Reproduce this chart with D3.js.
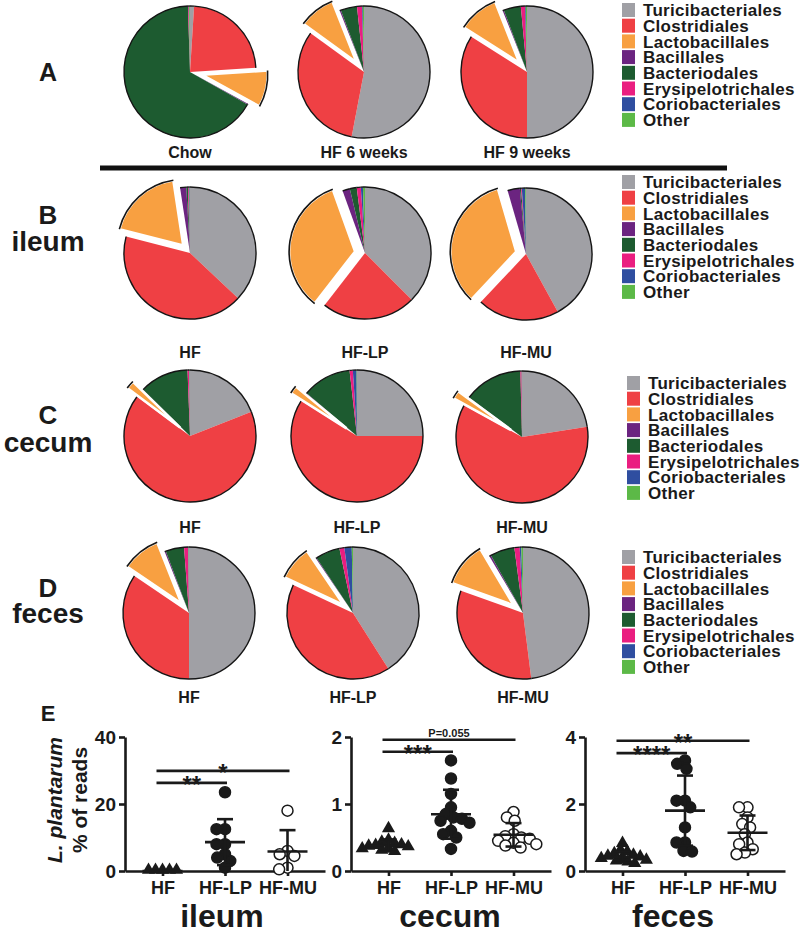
<!DOCTYPE html>
<html><head><meta charset="utf-8">
<script src="https://cdn.jsdelivr.net/npm/d3@7"></script>
<style>
body{margin:0;background:#fff}
text{font-family:"Liberation Sans",Arial,Helvetica,sans-serif;font-weight:bold;fill:#1a1a1a}
</style>
</head><body>
<svg id="c" width="800" height="933" xmlns="http://www.w3.org/2000/svg"></svg>
<script>
// ---------------- DATA ----------------
const orders = ["Turicibacteriales","Clostridiales","Lactobacillales","Bacillales","Bacteriodales","Erysipelotrichales","Coriobacteriales","Other"];
const orderColors = ["#a0a0a5","#ef4044","#f8a041","#6b2480","#1d5b30","#ea1e80","#2f4ea0","#5cb947"];

// Panel A (% of reads per order)
const pieA_labels = ["Chow","HF 6 weeks","HF 9 weeks"];
const pieA_chow = [1, 23, 9, 0.2, 66.3, 0.2, 0.1, 0.2];
const pieA_hf6  = [53, 32, 9, 0.3, 4, 1.2, 0.2, 0.3];
const pieA_hf9  = [50, 34, 10, 0.3, 4.2, 1, 0.2, 0.3];
// Panel B ileum
const groups = ["HF","HF-LP","HF-MU"];
const pieB_hf   = [37, 42, 18.6, 1.5, 0.4, 0.2, 0.2, 0.1];
const pieB_hflp = [37.5, 23, 34, 1.8, 1.7, 1, 0.5, 0.5];
const pieB_hfmu = [42, 20, 33.5, 3, 0.3, 0.2, 0.8, 0.2];
// Panel C cecum
const pieC_hf   = [19, 66.2, 2.1, 0.1, 12, 0.4, 0.1, 0.1];
const pieC_hflp = [25, 59, 2.0, 0.2, 12, 0.8, 0.9, 0.1];
const pieC_hfmu = [22.5, 60.5, 2.1, 0.1, 14.4, 0.3, 0.05, 0.05];
// Panel D feces
const pieD_hf   = [50, 34.5, 9.5, 0.3, 4.5, 1, 0.1, 0.1];
const pieD_hflp = [41, 41, 8.5, 0.2, 6, 1.2, 1.8, 0.3];
const pieD_hfmu = [48, 32.5, 11, 0.4, 6, 1.3, 0.4, 0.4];

// Panel E: L. plantarum % of reads
const ileum_HF   = [0, 0, 0, 0, 0];
const ileum_HFLP = [23.5, 12.5, 12.5, 8, 8, 5, 4, 3, 1];
const ileum_HFMU = [18, 6, 5, 4.5, 1, 0.5];
const cecum_HF   = [0.62, 0.45, 0.42, 0.40, 0.38, 0.37, 0.36, 0.35, 0.33, 0.32, 0.30, 0.28];
const cecum_HFLP = [1.65, 1.38, 1.15, 0.95, 0.85, 0.8, 0.78, 0.75, 0.72, 0.6, 0.55, 0.5, 0.33];
const cecum_HFMU = [0.88, 0.8, 0.75, 0.55, 0.52, 0.5, 0.48, 0.45, 0.42, 0.40, 0.38, 0.35];
const feces_HF   = [0.8, 0.6, 0.55, 0.5, 0.45, 0.42, 0.4, 0.38, 0.35, 0.3, 0.28, 0.25, 0.2];
const feces_HFLP = [3.3, 3.2, 3.05, 2.1, 2.1, 1.9, 1.3, 0.85, 0.85, 0.6, 0.58];
const feces_HFMU = [1.9, 1.9, 1.6, 1.4, 1.3, 1.1, 0.85, 0.8, 0.65, 0.55, 0.5];
const ileum_ticks = [0, 20, 40];
const cecum_ticks = [0, 1, 2];
const feces_ticks = [0, 2, 4];
// significance: [from group, to group, y value, label]
const ileum_sig = [["HF","HF-LP",26.3,"**"],["HF","HF-MU",29.9,"*"]];
const cecum_sig = [["HF","HF-LP",1.78,"***"],["HF","HF-MU",1.96,"P=0.055"]];
const feces_sig = [["HF","HF-LP",3.52,"****"],["HF","HF-MU",3.89,"**"]];

// ---------------- DRAW ----------------
const svg = d3.select("#c");
const R = 66;

function drawPie(cx, cy, vals, explodeIdx, offset, label, labelY) {
  const arcs = d3.pie().sort(null).value(d => d).startAngle(0).endAngle(2*Math.PI)(vals);
  const arc = d3.arc().innerRadius(0).outerRadius(R);
  const rim = d3.arc().innerRadius(R).outerRadius(R);
  const g = svg.append("g").attr("transform", `translate(${cx},${cy})`);
  arcs.forEach((a, i) => { if (i !== explodeIdx) g.append("path").attr("d", arc(a)).attr("fill", orderColors[i]); });
  arcs.forEach((a, i) => { if (i !== explodeIdx) g.append("path").attr("d", rim(a)).attr("fill", "none").attr("stroke", "#151515").attr("stroke-width", 1.4); });
  const a = arcs[explodeIdx];
  const mid = (a.startAngle + a.endAngle) / 2;
  const ge = g.append("g").attr("transform", `translate(${Math.sin(mid)*offset},${-Math.cos(mid)*offset})`);
  ge.append("path").attr("d", arc(a)).attr("fill", orderColors[explodeIdx]).attr("stroke", "#fff").attr("stroke-width", 2.6);
  ge.append("path").attr("d", rim(a)).attr("fill", "none").attr("stroke", "#151515").attr("stroke-width", 1.6);
  svg.append("text").attr("x", cx).attr("y", labelY).attr("text-anchor", "middle").attr("font-size", 16).text(label);
}

function drawLegend(x0, y0) {
  const step = 15.7;
  orders.forEach((o, i) => {
    svg.append("rect").attr("x", x0).attr("y", y0 + i*step - 7).attr("width", 13).attr("height", 14).attr("fill", orderColors[i]);
    svg.append("text").attr("x", x0 + 21).attr("y", y0 + i*step).attr("dy", "0.36em")
      .attr("font-size", 17).attr("letter-spacing", 0.3).text(o);
  });
}

// Row A
drawPie(190, 72, pieA_chow, 2, 12, pieA_labels[0], 158);
drawPie(364, 72, pieA_hf6, 2, 12, pieA_labels[1], 158);
drawPie(527, 72, pieA_hf9, 2, 12, pieA_labels[2], 158);
drawLegend(622, 10);
svg.append("line").attr("x1", 100).attr("x2", 727).attr("y1", 168).attr("y2", 168).attr("stroke", "#111").attr("stroke-width", 5);

// Row B
drawPie(190, 253, pieB_hf, 2, 10, groups[0], 358);
drawPie(365, 253, pieB_hflp, 2, 10, groups[1], 358);
drawPie(526, 254, pieB_hfmu, 2, 10, groups[2], 358);
drawLegend(622, 182);
// Row C
drawPie(190, 436, pieC_hf, 2, 13, groups[0], 533);
drawPie(357, 436, pieC_hflp, 2, 13, groups[1], 533);
drawPie(522, 437, pieC_hfmu, 2, 13, groups[2], 533);
drawLegend(627, 383);
// Row D
drawPie(189, 613, pieD_hf, 2, 12, groups[0], 703);
drawPie(353, 613, pieD_hflp, 2, 12, groups[1], 703);
drawPie(523, 613, pieD_hfmu, 2, 12, groups[2], 703);
drawLegend(622, 557);

// panel letters
function letter(t, x, y, fs) { svg.append("text").attr("x", x).attr("y", y).attr("text-anchor", "middle").attr("font-size", fs).text(t); }
letter("A", 48, 81, 25);
letter("B", 48, 224, 26); letter("ileum", 48, 251, 28);
letter("C", 48, 424, 26); letter("cecum", 48, 452, 28);
letter("D", 48, 597, 26); letter("feces", 48, 623, 28);
letter("E", 48, 721, 22);

// ---------- Panel E ----------
function beeswarm(vals, y, D) {
  const placed = [], res = [];
  vals.forEach((v, i) => {
    const yy = y(v);
    const forb = [];
    placed.forEach(p => { const dy = Math.abs(p.y - yy); if (dy < D) { const w = Math.sqrt(D*D - dy*dy); forb.push([p.x - w, p.x + w]); } });
    const cands = [0]; forb.forEach(f => cands.push(f[0], f[1]));
    cands.sort((a, b) => Math.abs(a) - Math.abs(b));
    let x = 0;
    for (const c of cands) { if (forb.every(f => c <= f[0] + 1e-6 || c >= f[1] - 1e-6)) { x = c; break; } }
    placed.push({x, y: yy}); res.push(x);
  });
  return res;
}

function scatter(x0, data, ticks, sig, title, titleX) {
  const y = d3.scaleLinear().domain([0, ticks[ticks.length-1]]).range([871, 737]);
  const x = d3.scalePoint().domain(groups).range([x0, x0 + 200]).padding(0.6);
  const g = svg.append("g");
  const ya = g.append("g").attr("transform", `translate(${x0},0)`)
    .call(d3.axisLeft(y).tickValues(ticks).tickSize(6).tickSizeOuter(0).tickPadding(3).tickFormat(d3.format("d")));
  const xa = g.append("g").attr("transform", `translate(0,${y(0)})`)
    .call(d3.axisBottom(x).tickSize(5).tickSizeOuter(0).tickPadding(5));
  [ya, xa].forEach(a => {
    a.selectAll("path,line").attr("stroke", "#1a1a1a").attr("stroke-width", 2.6);
    a.selectAll("text").attr("font-size", 18).attr("font-family", "Liberation Sans, Arial, sans-serif").attr("font-weight", "bold").attr("fill", "#1a1a1a");
  });
  ya.selectAll("text").attr("font-size", 19);
  data.forEach((vals, gi) => {
    const cx = x(groups[gi]);
    const offs = beeswarm(vals, y, gi === 0 ? 7 : 8.5);
    vals.forEach((v, i) => {
      if (gi === 0) {
        g.append("path").attr("d", d3.symbol(d3.symbolTriangle, 75)())
          .attr("transform", `translate(${cx + offs[i]},${y(v) - 1})`).attr("fill", "#1a1a1a");
      } else {
        g.append("circle").attr("cx", cx + offs[i]).attr("cy", y(v)).attr("r", 5.5)
          .attr("fill", gi === 1 ? "#1a1a1a" : "#fff").attr("stroke", "#1a1a1a").attr("stroke-width", 1.5);
      }
    });
    const m = d3.mean(vals), sd = d3.deviation(vals) || 0;
    const ln = (x1, y1, x2, y2) => g.append("line").attr("x1", x1).attr("y1", y1).attr("x2", x2).attr("y2", y2)
      .attr("stroke", "#1a1a1a").attr("stroke-width", 2.6);
    ln(cx - 20, y(m), cx + 20, y(m));
    if (sd > 0) {
      const lo = Math.max(0, m - sd);
      ln(cx, y(m + sd), cx, y(lo));
      ln(cx - 8, y(m + sd), cx + 8, y(m + sd));
      if (m - sd > 0) ln(cx - 8, y(lo), cx + 8, y(lo));
    }
  });
  sig.forEach(s => {
    const xa1 = x(s[0]) - 6, xa2 = x(s[1]) + 2, yy = y(s[2]);
    g.append("line").attr("x1", xa1).attr("x2", xa2).attr("y1", yy).attr("y2", yy).attr("stroke", "#1a1a1a").attr("stroke-width", 2.6);
    const isP = s[3].startsWith("P");
    g.append("text").attr("x", (xa1 + xa2) / 2).attr("y", isP ? yy - 3 : yy + 10)
      .attr("text-anchor", "middle").attr("font-size", isP ? 11 : 24).text(s[3]);
  });
  svg.append("text").attr("x", titleX).attr("y", 927).attr("text-anchor", "middle").attr("font-size", 32).text(title);
}

scatter(125, [ileum_HF, ileum_HFLP, ileum_HFMU], ileum_ticks, ileum_sig, "ileum", 222);
scatter(351, [cecum_HF, cecum_HFLP, cecum_HFMU], cecum_ticks, cecum_sig, "cecum", 450);
scatter(585, [feces_HF, feces_HFLP, feces_HFMU], feces_ticks, feces_sig, "feces", 673);

const yt = svg.append("g").attr("transform", "translate(0,800)");
yt.append("text").attr("transform", "translate(62,0) rotate(-90)").attr("text-anchor", "middle").attr("font-size", 21)
  .attr("font-style", "italic").text("L. plantarum");
yt.append("text").attr("transform", "translate(87,0) rotate(-90)").attr("text-anchor", "middle").attr("font-size", 21).text("% of reads");
</script>
</body></html>
